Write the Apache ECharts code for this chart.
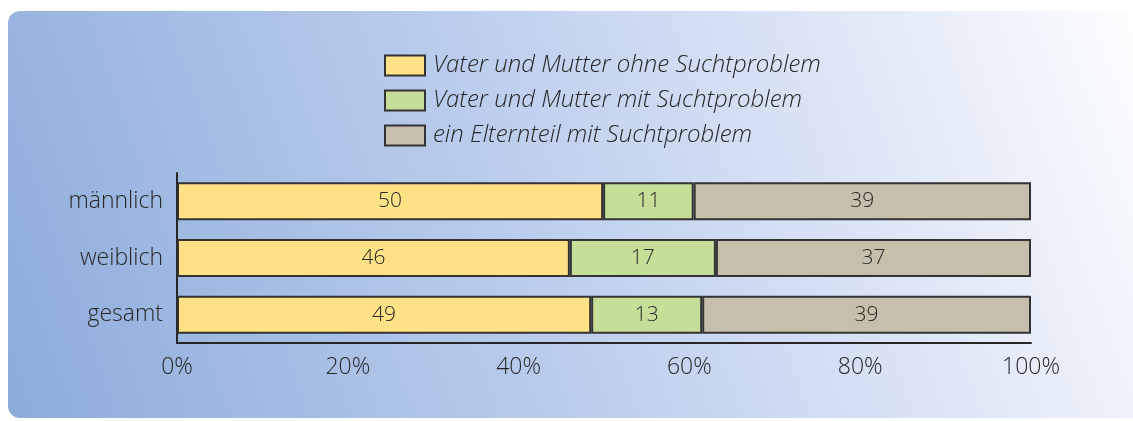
<!DOCTYPE html>
<html>
<head>
<meta charset="utf-8">
<script src="https://cdn.jsdelivr.net/npm/echarts@6/dist/echarts.min.js"></script>
<style>
html,body{margin:0;padding:0;background:#fff;}
#c{width:1133px;height:421px;}
</style>
</head>
<body>
<div id="c"></div>
<script>
const categories = ['männlich', 'weiblich', 'gesamt'];
const seriesNames = ['Vater und Mutter ohne Suchtproblem', 'Vater und Mutter mit Suchtproblem', 'ein Elternteil mit Suchtproblem'];
// bar lengths (percent)
const ohne = [49.9, 46.0, 48.5];
const mit = [10.6, 17.1, 13.0];
const einer = [39.5, 36.9, 38.5];
// printed labels
const ohneLabels = [50, 46, 49];
const mitLabels = [11, 17, 13];
const einerLabels = [39, 37, 39];
const xTicks = [0, 20, 40, 60, 80, 100];

const colors = ['#ffe285', '#c6df98', '#c6bfab'];
const valueSets = [ohne, mit, einer];
const labelSets = [ohneLabels, mitLabels, einerLabels];

const chart = echarts.init(document.getElementById('c'), null, {renderer: 'canvas'});
const txt = '#262626';
const font = "'Open Sans', 'Liberation Sans', sans-serif";

chart.setOption({
  animation: false,
  textStyle: {fontFamily: font},
  graphic: [{
    type: 'rect',
    z: -10,
    shape: {x: 8, y: 11, width: 1150, height: 407, r: 12},
    style: {
      fill: new echarts.graphic.LinearGradient(0, 1, 1, 0, [
        {offset: 0, color: '#8cacda'},
        {offset: 0.45, color: '#bccded'},
        {offset: 0.82, color: '#e8eef9'},
        {offset: 1, color: '#ffffff'}
      ])
    },
    silent: true
  }],
  legend: {
    orient: 'vertical',
    left: 384,
    top: 53,
    padding: 0,
    itemWidth: 40,
    itemHeight: 20,
    itemGap: 10,
    icon: 'rect',
    align: 'left',
    textStyle: {fontSize: 24, fontStyle: 'italic', fontWeight: 300, color: txt, fontFamily: font, padding: [0, 0, 0, 3], lineHeight: 25},
    data: seriesNames
  },
  grid: {left: 177, right: 102, top: 173, height: 170, containLabel: false},
  xAxis: {
    type: 'value',
    min: 0, max: 100, interval: 20,
    axisLine: {show: true, lineStyle: {color: '#262626', width: 2}},
    axisTick: {show: false},
    splitLine: {show: false},
    axisLabel: {
      fontSize: 23, fontWeight: 300, color: txt, margin: 13,
      formatter: function (v) { return xTicks.indexOf(v) >= 0 ? v + '%' : ''; }
    }
  },
  yAxis: {
    type: 'category',
    inverse: true,
    data: categories,
    axisLine: {show: true, lineStyle: {color: '#262626', width: 2}},
    axisTick: {show: false},
    axisLabel: {fontSize: 23, fontWeight: 300, color: txt, margin: 14}
  },
  series: seriesNames.map(function (name, i) {
    return {
      name: name,
      type: 'bar',
      stack: 'all',
      barWidth: 38,
      itemStyle: {color: colors[i], borderColor: '#333333', borderWidth: 2},
      label: {
        show: true,
        position: 'inside',
        fontSize: 21,
        fontWeight: 300,
        color: txt,
        formatter: function (p) { return String(labelSets[i][p.dataIndex]); }
      },
      data: valueSets[i]
    };
  })
});
</script>
</body>
</html>
